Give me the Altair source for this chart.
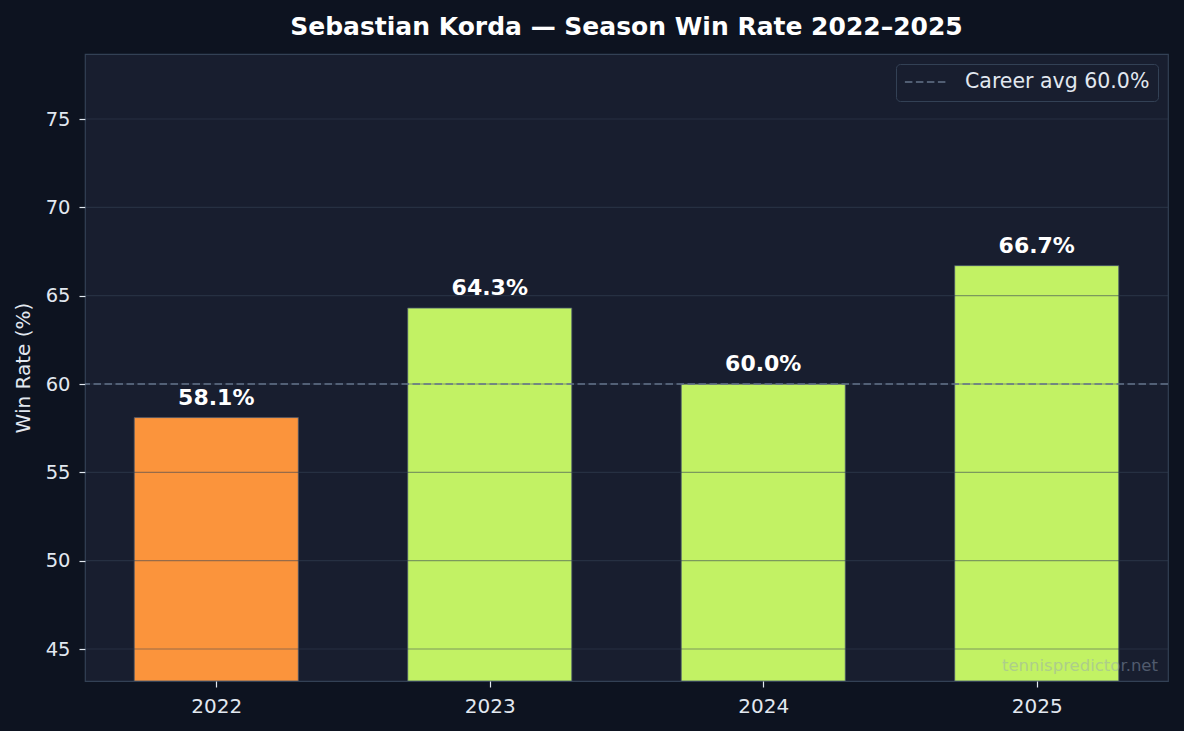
import altair as alt
import pandas as pd

years = ["2022", "2023", "2024", "2025"]
win_rates = [58.1, 64.3, 60.0, 66.7]
career_avg = 60.0
y_ticks = [45, 50, 55, 60, 65, 70, 75]
y_min, y_max = 43.19, 78.68

idx = list(range(len(years)))
bars = pd.DataFrame({
    "idx": idx,
    "x0": [i - 0.3 for i in idx],
    "x1": [i + 0.3 for i in idx],
    "year": years,
    "rate": win_rates,
    "label": [f"{v:.1f}%" for v in win_rates],
})
avg_df = pd.DataFrame({"avg": [career_avg], "name": [f"Career avg {career_avg:.1f}%"]})
grid_df = pd.DataFrame({"g": y_ticks})

BG = "#0d1320"
PANEL = "#181e2f"
ORANGE = "#fb943c"
GREEN = "#c2f264"
TXT = "#e2e8f0"
FONT = "DejaVu Sans"
DASH = [7.5, 3.5]

label_expr = "[" + ",".join(f"'{y}'" for y in years) + "][datum.value]"

xscale = alt.Scale(domain=[-0.48, 3.48], nice=False, zero=False)
yscale = alt.Scale(domain=[y_min, y_max], nice=False, zero=False)

base_x_axis = alt.Axis(values=idx, labelExpr=label_expr, grid=False, domain=False,
                       tickColor=TXT, tickSize=6, tickWidth=1.2, labelColor=TXT,
                       labelFontSize=20, labelPadding=9, title=None, labelFont=FONT)
base_y_axis = alt.Axis(values=y_ticks, grid=False, domain=False, tickColor=TXT, tickSize=6,
                       tickWidth=1.2, labelColor=TXT, labelFontSize=19.5, labelPadding=9,
                       title="Win Rate (%)", titleColor=TXT, titleFontSize=20,
                       titleFontWeight="normal", titlePadding=12, labelFont=FONT,
                       titleFont=FONT)

bar_layer = alt.Chart(bars).mark_rect(stroke="#475569", strokeWidth=0.8, clip=True).encode(
    x=alt.X("x0:Q", scale=xscale, axis=base_x_axis),
    x2="x1:Q",
    y=alt.Y("rate:Q", scale=yscale, axis=base_y_axis),
    y2=alt.datum(y_min),
    color=alt.condition(alt.datum.rate < career_avg, alt.value(ORANGE), alt.value(GREEN)),
)

grid_layer = alt.Chart(grid_df).mark_rule(color="#334155", opacity=0.5, strokeWidth=1.2).encode(
    y=alt.Y("g:Q", scale=yscale),
)

avg_layer = alt.Chart(avg_df).mark_rule(strokeDash=DASH, strokeWidth=1.6).encode(
    y=alt.Y("avg:Q", scale=yscale),
    color=alt.Color("name:N", scale=alt.Scale(range=["#64748b"]),
                    legend=alt.Legend(orient="top-right", title=None,
                                      symbolType="M-1,0H1", symbolDash=DASH,
                                      symbolStrokeWidth=1.6, symbolSize=1700,
                                      labelColor=TXT, labelFontSize=20.5, labelLimit=400,
                                      labelFont=FONT, fillColor=PANEL, clipHeight=20,
                                      strokeColor="#334155", padding=8, cornerRadius=4,
                                      offset=10, labelOffset=18)),
)

text_layer = alt.Chart(bars).mark_text(fontSize=22, fontWeight="bold", color="white",
                                       baseline="alphabetic", dy=-13, font=FONT).encode(
    x=alt.X("idx:Q", scale=xscale),
    y=alt.Y("rate:Q", scale=yscale),
    text="label:N",
)

wm_layer = alt.Chart(pd.DataFrame({"t": ["tennispredictor.net"]})).mark_text(
    align="right", baseline="alphabetic", fontSize=16.5, color="#94a3b8", opacity=0.45,
    font=FONT).encode(
    x=alt.value(1073), y=alt.value(617), text="t:N")

chart = alt.layer(bar_layer, grid_layer, avg_layer, text_layer, wm_layer).properties(
    width=1083, height=627,
    title=alt.TitleParams("Sebastian Korda — Season Win Rate 2022–2025", color="white",
                          fontSize=25, fontWeight="bold", font=FONT,
                          anchor="middle", offset=14),
    background=BG,
    padding={"left": 85, "top": 54, "right": 16, "bottom": 50},
    autosize=alt.AutoSizeParams(type="none"),
).configure_view(fill=PANEL, stroke="#334155", strokeWidth=1.2)

chart.save("out.html", embed_options={"renderer": "svg", "actions": False})
